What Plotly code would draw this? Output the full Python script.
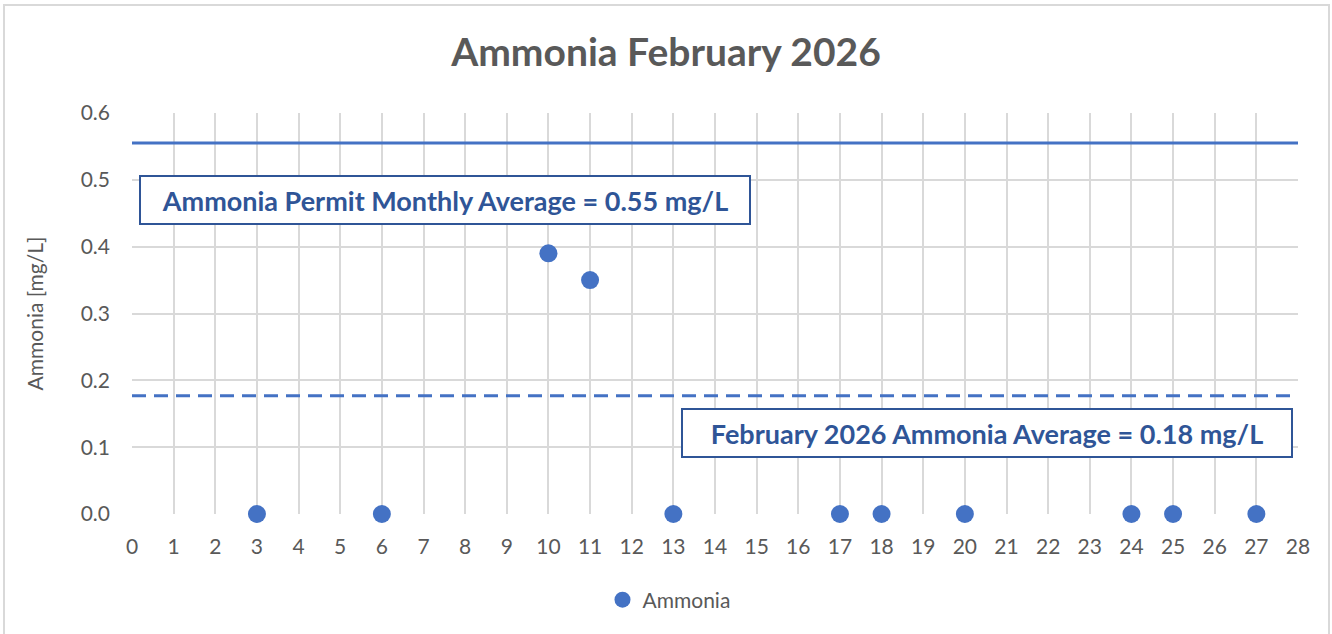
import plotly.graph_objects as go

days = [3, 6, 10, 11, 13, 17, 18, 20, 24, 25, 27]
ammonia = [0.0, 0.0, 0.39, 0.35, 0.0, 0.0, 0.0, 0.0, 0.0, 0.0, 0.0]
permit_limit = 0.555
month_average = 0.177
x_span = [0, 28]
permit_label = "Ammonia Permit Monthly Average = 0.55 mg/L"
average_label = "February 2026 Ammonia Average = 0.18 mg/L"

BLUE = "#4472C4"
DARK = "#2F5597"
GRAY = "#595959"
GRID = "#D9D9D9"
FONT = "Lato"

L, R, T, B = 132, 34, 113, 120
PW, PH = 1332 - L - R, 634 - T - B

fig = go.Figure()
fig.add_trace(go.Scatter(x=x_span, y=[permit_limit] * 2, mode="lines",
                         line=dict(color=BLUE, width=3), showlegend=False, hoverinfo="skip"))
fig.add_trace(go.Scatter(x=x_span, y=[month_average] * 2, mode="lines",
                         line=dict(color=BLUE, width=3, dash="14px,8px"), showlegend=False, hoverinfo="skip"))
fig.add_trace(go.Scatter(x=days, y=ammonia, mode="markers", name="Ammonia",
                         marker=dict(color=BLUE, size=18, line=dict(width=0)), cliponaxis=False))

fig.update_layout(
    width=1332, height=634,
    margin=dict(l=L, r=R, t=T, b=B),
    paper_bgcolor="white", plot_bgcolor="white",
    font=dict(family=FONT, color=GRAY, size=21),
    title=dict(text="<b>Ammonia February 2026</b>", x=0.5, xanchor="center",
               y=1 - 52 / 634, yanchor="middle", font=dict(size=39, color=GRAY, family=FONT)),
    xaxis=dict(range=[0, 28], dtick=1, tick0=0, showgrid=True, gridcolor=GRID, gridwidth=2,
               zeroline=False, showline=False, ticks="", ticklabelstandoff=18,
               tickfont=dict(size=21, color=GRAY)),
    yaxis=dict(range=[0, 0.6], dtick=0.1, tickformat=".1f", showgrid=True, gridcolor=GRID, gridwidth=2,
               zeroline=False, showline=False, ticks="", ticklabelstandoff=21,
               tickfont=dict(size=21, color=GRAY),
               title=dict(text="Ammonia [mg/L]", font=dict(size=21, color=GRAY), standoff=31)),
    legend=dict(orientation="h", x=0.5 - 46 / PW, xanchor="center", y=(514 - 600) / PH, yanchor="middle",
                font=dict(size=21, color=GRAY), itemwidth=30, bgcolor="rgba(0,0,0,0)"),
    showlegend=True,
)

fig.add_annotation(x=7.52, y=0.47, xref="x", yref="y", text="<b>" + permit_label + "</b>",
                   showarrow=False, font=dict(size=27, color=DARK, family=FONT),
                   bordercolor=DARK, borderwidth=2, bgcolor="white", width=606, height=44, borderpad=1)
fig.add_annotation(x=20.53, y=0.121, xref="x", yref="y", text="<b>" + average_label + "</b>",
                   showarrow=False, font=dict(size=27, color=DARK, family=FONT),
                   bordercolor=DARK, borderwidth=2, bgcolor="white", width=606, height=44, borderpad=1)

fig.add_shape(type="rect", xref="paper", yref="paper",
              x0=(4 - L) / PW, x1=(1329 - L) / PW,
              y0=(514 - 645) / PH, y1=(514 - 5) / PH,
              line=dict(color=GRID, width=2), layer="below")

fig.write_html("out.html", config={"displayModeBar": False},
               post_script="document.body.style.margin='0';")
